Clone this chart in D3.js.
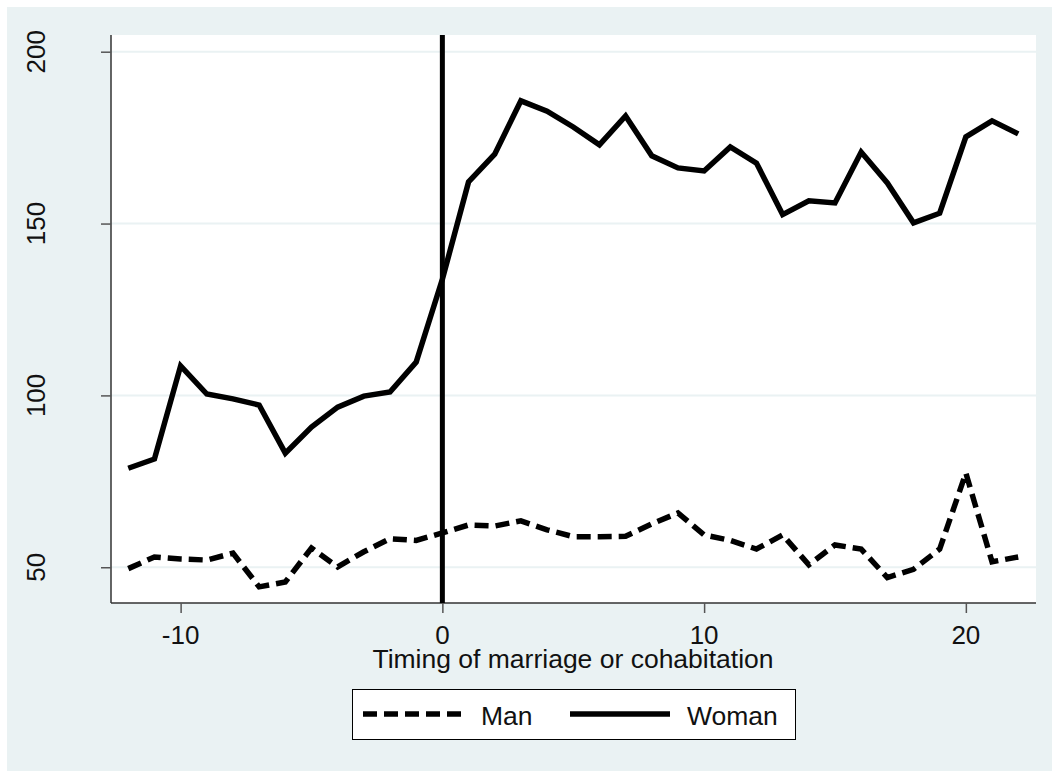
<!DOCTYPE html>
<html>
<head>
<meta charset="utf-8">
<script src="https://cdn.jsdelivr.net/npm/d3@7.9.0/dist/d3.min.js"></script>
<style>
  html, body { margin: 0; padding: 0; background: #fff; }
  svg { display: block; font-family: "Liberation Sans", Arial, sans-serif; }
</style>
</head>
<body>
<svg id="chart" width="1052" height="771"></svg>
<script>
// timing relative to marriage / cohabitation
const timing = d3.range(-12, 23);

const woman = [78.8, 81.5, 108.6, 100.4, 99, 97.2, 83.2, 90.8, 96.6, 99.8, 101, 109.7,
  133.8, 162.1, 170.2, 185.7, 182.7, 178.1, 172.9, 181.3, 169.7, 166.2, 165.3, 172.3,
  167.6, 152.6, 156.6, 156, 170.8, 161.8, 150.2, 153, 175.2, 179.9, 176.1];

const man = [49.6, 53, 52.4, 52.1, 54.1, 44.3, 45.7, 55.6, 50.1, 54.5, 58.3, 57.8,
  60, 62.3, 62, 63.5, 60.9, 58.9, 58.9, 59, 62.6, 65.8, 59.4, 57.8,
  55.3, 59.4, 50.7, 56.5, 55.3, 47, 49.4, 55.3, 77.4, 51.6, 53];

const xTicks = [-10, 0, 10, 20];
const yTicks = [50, 100, 150, 200];
const xTitle = "Timing of marriage or cohabitation";
const legendLabels = ["Man", "Woman"];

const svg = d3.select("#chart");
const plot = { left: 111, right: 1036, top: 35, bottom: 603 };

const x = d3.scaleLinear().domain([-12.66, 22.68]).range([plot.left, plot.right]);
const y = d3.scaleLinear().domain([39.6, 204.86]).range([plot.bottom, plot.top]);

// outer background
svg.append("rect").attr("x", 7).attr("y", 7).attr("width", 1045).attr("height", 764)
  .attr("fill", "#eaf2f3");

// plot region
svg.append("rect").attr("x", plot.left).attr("y", plot.top)
  .attr("width", plot.right - plot.left).attr("height", plot.bottom - plot.top)
  .attr("fill", "#fff");

// gridlines
svg.append("g").selectAll("line").data(yTicks).join("line")
  .attr("x1", plot.left).attr("x2", plot.right)
  .attr("y1", d => y(d)).attr("y2", d => y(d))
  .attr("stroke", "#eaf2f3").attr("stroke-width", 2);

// y axis
const yAxis = svg.append("g").attr("transform", `translate(${plot.left},0)`)
  .call(d3.axisLeft(y).tickValues(yTicks).tickSize(10).tickFormat(""));
yAxis.select(".domain").attr("d", `M0,${plot.top}V${plot.bottom}`).attr("stroke", "#333").attr("stroke-width", 1.5);
yAxis.selectAll(".tick line").attr("stroke", "#555").attr("stroke-width", 1.5);

svg.append("g").selectAll("text").data(yTicks).join("text")
  .attr("transform", d => `translate(45,${y(d)}) rotate(-90)`)
  .attr("text-anchor", "middle")
  .attr("font-size", 26)
  .attr("fill", "#111")
  .text(d => d);

// x axis
const xAxis = svg.append("g").attr("transform", `translate(0,${plot.bottom})`)
  .call(d3.axisBottom(x).tickValues(xTicks).tickSize(10).tickFormat(""));
xAxis.select(".domain").attr("d", `M${plot.left},0H${plot.right}`).attr("stroke", "#333").attr("stroke-width", 1.5);
xAxis.selectAll(".tick line").attr("stroke", "#555").attr("stroke-width", 1.5);

svg.append("g").selectAll("text").data(xTicks).join("text")
  .attr("x", d => x(d)).attr("y", 644)
  .attr("text-anchor", "middle")
  .attr("font-size", 26)
  .attr("fill", "#111")
  .text(d => d);

svg.append("text")
  .attr("x", 573).attr("y", 668)
  .attr("text-anchor", "middle")
  .attr("font-size", 26.5)
  .attr("fill", "#111")
  .text(xTitle);

// series
const line = d3.line().x((d, i) => x(timing[i])).y(d => y(d));

svg.append("path").datum(man)
  .attr("d", line).attr("fill", "none")
  .attr("stroke", "#000").attr("stroke-width", 5.5)
  .attr("stroke-dasharray", "14,7");

svg.append("path").datum(woman)
  .attr("d", line).attr("fill", "none")
  .attr("stroke", "#000").attr("stroke-width", 5.5);

// vertical line at 0
svg.append("line")
  .attr("x1", x(0)).attr("x2", x(0))
  .attr("y1", plot.top).attr("y2", plot.bottom)
  .attr("stroke", "#000").attr("stroke-width", 5);

// legend
const lg = svg.append("g");
lg.append("rect").attr("x", 352.5).attr("y", 689.5).attr("width", 443).attr("height", 50)
  .attr("fill", "#fff").attr("stroke", "#000").attr("stroke-width", 1);

const keys = [
  { x1: 363, x2: 463, tx: 481, dash: "14,7" },
  { x1: 570, x2: 670, tx: 687, dash: null }
];
keys.forEach((k, i) => {
  lg.append("line").attr("x1", k.x1).attr("x2", k.x2).attr("y1", 714).attr("y2", 714)
    .attr("stroke", "#000").attr("stroke-width", 5.5)
    .attr("stroke-dasharray", k.dash);
  lg.append("text").attr("x", k.tx).attr("y", 725)
    .attr("font-size", 26.5).attr("fill", "#111")
    .text(legendLabels[i]);
});
</script>
</body>
</html>
